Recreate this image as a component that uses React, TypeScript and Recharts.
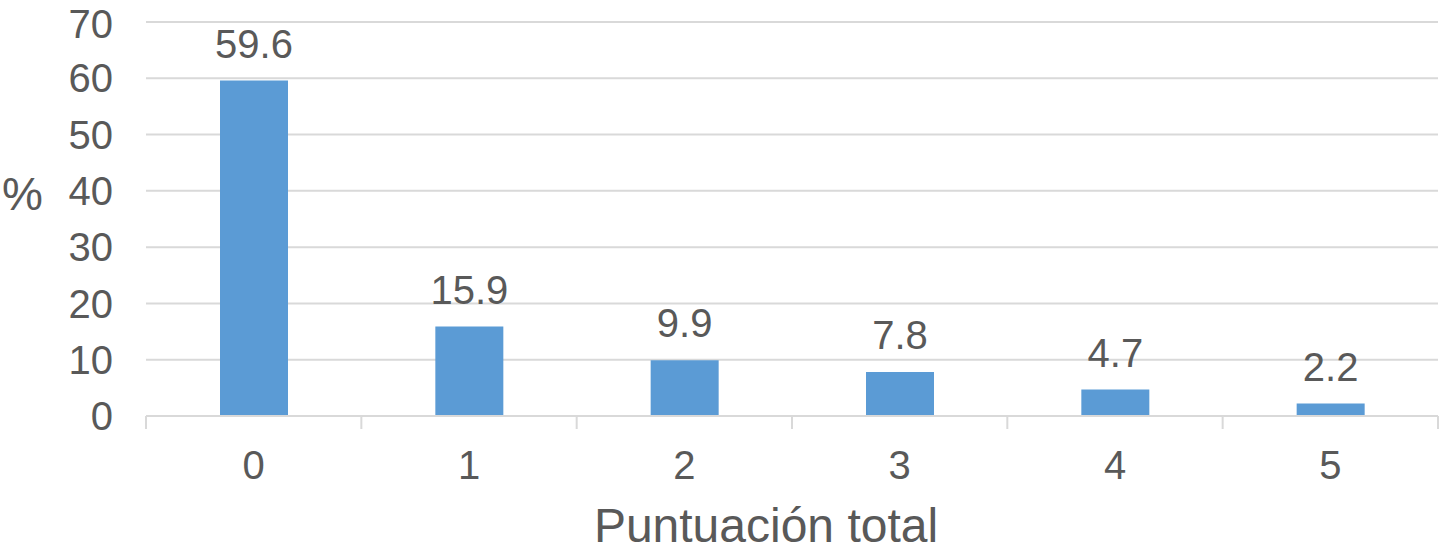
import { Bar, BarChart, CartesianGrid, Label, LabelList, XAxis, YAxis } from 'recharts';

const categories = ['0', '1', '2', '3', '4', '5'];
const percentages = [59.6, 15.9, 9.9, 7.8, 4.7, 2.2];
const yTicks = [0, 10, 20, 30, 40, 50, 60, 70];

const data = categories.map((score, i) => ({ score, pct: percentages[i] }));

const FONT = '"Liberation Sans", Arial, Helvetica, sans-serif';
const TEXT = '#595959';
const LINE = '#D9D9D9';
const TICK_SIZE = 13;
const TICK_MARGIN = 22;

// category ticks sit at the band edges, labels at the band centres
function ScoreTick(props: any) {
  const { x, y, payload, index, visibleTicksCount } = props;
  const half = payload.offset || 0;
  const axisY = y - TICK_SIZE - TICK_MARGIN;
  const isLast = index === visibleTicksCount - 1;
  return (
    <g>
      <line x1={x - half} x2={x - half} y1={axisY} y2={axisY + TICK_SIZE} stroke={LINE} strokeWidth={2} />
      {isLast && (
        <line x1={x + half} x2={x + half} y1={axisY} y2={axisY + TICK_SIZE} stroke={LINE} strokeWidth={2} />
      )}
      <text x={x} y={y} dy="0.71em" textAnchor="middle" fill={TEXT} fontSize={40} fontFamily={FONT}>
        {payload.value}
      </text>
    </g>
  );
}

export default function App() {
  return (
    <div style={{ position: 'absolute', left: 0, top: 0, fontFamily: FONT }}>
      <BarChart width={1441} height={558} data={data} margin={{ top: 22, right: 3, left: 0, bottom: 0 }}>
        <CartesianGrid vertical={false} stroke={LINE} strokeWidth={2} />
        <XAxis
          dataKey="score"
          height={142}
          stroke={LINE}
          strokeWidth={2}
          tickLine={false}
          tickSize={TICK_SIZE}
          tickMargin={TICK_MARGIN}
          tick={<ScoreTick />}
        >
          <Label
            content={({ viewBox }: any) => (
              <text
                x={viewBox.x + viewBox.width / 2 - 26}
                y={viewBox.y + 126}
                textAnchor="middle"
                fill={TEXT}
                fontSize={48}
                fontFamily={FONT}
              >
                Puntuación total
              </text>
            )}
          />
        </XAxis>
        <YAxis
          width={146}
          domain={[0, 70]}
          ticks={yTicks}
          axisLine={false}
          tickLine={false}
          tickSize={0}
          tickMargin={33}
          tick={{ fill: TEXT, fontSize: 40, fontFamily: FONT }}
        >
          <Label
            content={({ viewBox }: any) => (
              <text x={2} y={viewBox.y + 188} fill={TEXT} fontSize={46} fontFamily={FONT}>
                %
              </text>
            )}
          />
        </YAxis>
        <Bar dataKey="pct" fill="#5B9BD5" barSize={68} isAnimationActive={false}>
          <LabelList
            dataKey="pct"
            position="top"
            offset={23}
            fill={TEXT}
            fontSize={40}
            fontFamily={FONT}
            formatter={(v: any) => Number(v).toFixed(1)}
          />
        </Bar>
      </BarChart>
    </div>
  );
}
